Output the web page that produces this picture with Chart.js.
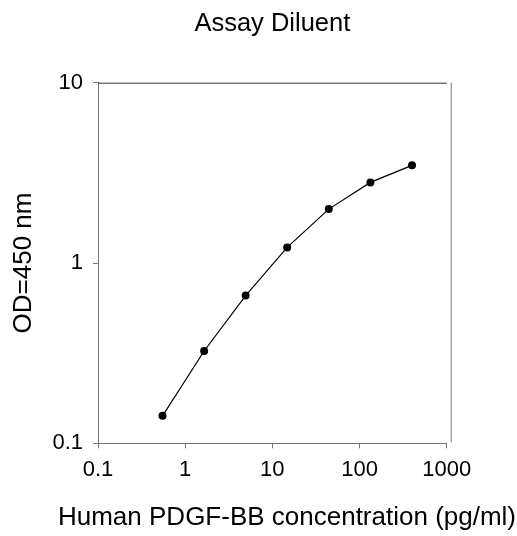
<!DOCTYPE html>
<html>
<head>
<meta charset="utf-8">
<script src="https://cdn.jsdelivr.net/npm/chart.js@4"></script>
<style>
  html, body { margin: 0; padding: 0; background: #fff; }
  #wrap { width: 517px; height: 536px; }
</style>
</head>
<body>
<div id="wrap"><canvas id="odChart" width="517" height="536"></canvas></div>
<script>
const concentrations = [0.55, 1.65, 4.94, 14.8, 44.4, 133.3, 400];
const odValues = [0.142, 0.325, 0.66, 1.22, 1.99, 2.80, 3.48];
const xTicks = [0.1, 1, 10, 100, 1000];
const yTicks = [0.1, 1, 10];

const fontFamily = "'Liberation Sans', Arial, sans-serif";
const axisColor = "#777";

// top and right frame lines, plus the x axis title
const framePlugin = {
    id: "frame",
    afterDraw(chart) {
        const { ctx, chartArea } = chart;
        ctx.save();
        ctx.lineWidth = 1;
        ctx.strokeStyle = "#333";
        ctx.beginPath();
        ctx.moveTo(chartArea.left, chartArea.top + 0.5);
        ctx.lineTo(chartArea.right, chartArea.top + 0.5);
        ctx.stroke();
        ctx.strokeStyle = axisColor;
        ctx.beginPath();
        ctx.moveTo(chartArea.right + 4.5, chartArea.top);
        ctx.lineTo(chartArea.right + 4.5, chartArea.bottom - 1);
        ctx.stroke();

        ctx.fillStyle = "#000";
        ctx.font = "26px " + fontFamily;
        ctx.textAlign = "center";
        ctx.textBaseline = "middle";
        ctx.fillText("Human PDGF-BB concentration (pg/ml)", 287, 518);
        ctx.restore();
    }
};

const ctx = document.getElementById("odChart").getContext("2d");

new Chart(ctx, {
    type: "line",
    data: {
        datasets: [{
            label: "Assay Diluent",
            data: concentrations.map((c, i) => ({ x: c, y: odValues[i] })),
            borderColor: "#000",
            backgroundColor: "#000",
            borderWidth: 1.2,
            pointRadius: 4,
            pointBackgroundColor: "#000",
            pointBorderWidth: 0,
            tension: 0
        }]
    },
    options: {
        responsive: false,
        animation: false,
        layout: { padding: { left: 0, right: 70.3, top: 0, bottom: 0 } },
        plugins: {
            legend: { display: false },
            tooltip: { enabled: false },
            title: {
                display: true,
                text: "Assay Diluent",
                fullSize: false,
                color: "#000",
                font: { family: fontFamily, size: 25.5, weight: "normal" },
                padding: { top: 8.9, bottom: 43.2 }
            }
        },
        scales: {
            x: {
                type: "logarithmic",
                min: 0.1,
                max: 1000,
                afterBuildTicks: scale => { scale.ticks = xTicks.map(v => ({ value: v })); },
                afterFit: scale => { scale.height = 92.7; },
                ticks: {
                    color: "#000",
                    font: { family: fontFamily, size: 22 },
                    padding: 8,
                    maxRotation: 0,
                    autoSkip: false,
                    callback: v => String(v)
                },
                grid: { drawOnChartArea: false, drawTicks: true, tickLength: 5, color: axisColor },
                border: { display: true, color: axisColor, width: 1 }
            },
            y: {
                type: "logarithmic",
                min: 0.1,
                max: 10,
                afterBuildTicks: scale => { scale.ticks = yTicks.map(v => ({ value: v })); },
                afterFit: scale => { scale.width = 98; },
                title: {
                    display: true,
                    text: "OD=450 nm",
                    color: "#000",
                    font: { family: fontFamily, size: 26 },
                    padding: { top: 8.6, bottom: 0 }
                },
                ticks: {
                    color: "#000",
                    font: { family: fontFamily, size: 22 },
                    padding: 10,
                    autoSkip: false,
                    callback: v => String(v)
                },
                grid: { drawOnChartArea: false, drawTicks: true, tickLength: 5, color: axisColor },
                border: { display: true, color: axisColor, width: 1 }
            }
        }
    },
    plugins: [framePlugin]
});
</script>
</body>
</html>
